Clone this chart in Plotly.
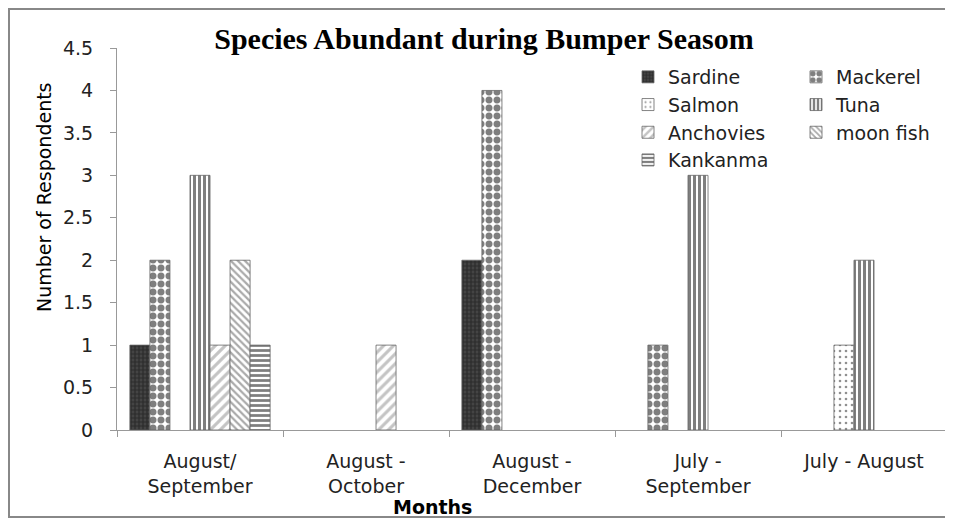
import plotly.graph_objects as go

categories = ["August/<br>September", "August -<br>October", "August -<br>December",
              "July -<br>September", "July - August"]
series_names = ["Sardine", "Mackerel", "Salmon", "Tuna", "Anchovies", "moon fish", "Kankanma"]
sardine = [1, 0, 2, 0, 0]
mackerel = [2, 0, 4, 1, 0]
salmon = [0, 0, 0, 0, 1]
tuna = [3, 0, 0, 3, 2]
anchovies = [1, 1, 0, 0, 0]
moon_fish = [2, 0, 0, 0, 0]
kankanma = [1, 0, 0, 0, 0]
y_ticks = [0, 0.5, 1, 1.5, 2, 2.5, 3, 3.5, 4, 4.5]

values = [sardine, mackerel, salmon, tuna, anchovies, moon_fish, kankanma]
patterns = [
    dict(shape="+", fgcolor="#111111", bgcolor="#444444", size=4, solidity=0.5),
    dict(shape=".", fgcolor="#000000", bgcolor="#ffffff", size=8, solidity=0.6),
    dict(shape=".", fgcolor="#222222", bgcolor="#ffffff", size=6, solidity=0.15),
    dict(shape="|", fgcolor="#000000", bgcolor="#ffffff", size=5, solidity=0.6),
    dict(shape="/", fgcolor="#8a8a8a", bgcolor="#ffffff", size=7, solidity=0.45),
    dict(shape="\\", fgcolor="#555555", bgcolor="#ffffff", size=5, solidity=0.45),
    dict(shape="-", fgcolor="#000000", bgcolor="#ffffff", size=5, solidity=0.55),
]
legend_ids = ["legend", "legend2", "legend", "legend2", "legend", "legend2", "legend"]

# The page body adds an 8px offset; work in reference-pixel coordinates.
OFF = 8
W, H = 953 - OFF, 520 - OFF
L, R, T, B = 117 - OFF, 6, 48 - OFF, 90
pw, ph = W - L - R, H - T - B


def px_x(p):
    return (p - OFF - L) / pw


def px_y(p):
    return (H - B - (p - OFF)) / ph


fig = go.Figure()
for name, vals, pat, lg in zip(series_names, values, patterns, legend_ids):
    fig.add_trace(go.Bar(
        name=name, x=categories, y=[v if v else None for v in vals],
        marker=dict(color=pat["bgcolor"], pattern=pat,
                    line=dict(color="#666666", width=0.8)),
        legend=lg,
    ))

font = "DejaVu Sans"
fig.update_layout(
    width=W, height=H,
    margin=dict(l=L, r=R, t=T, b=B),
    paper_bgcolor="white", plot_bgcolor="white",
    barmode="group", bargap=0.155, bargroupgap=0,
    font=dict(family=font, size=19, color="#222222"),
    title=dict(text="<b>Species Abundant during Bumper Seasom</b>",
               font=dict(family="Liberation Serif", size=30, color="#000000"),
               x=(484 - OFF) / W, xanchor="center", xref="container",
               y=1 - (38 - OFF) / H, yanchor="middle", yref="container"),
    xaxis=dict(showline=True, linecolor="#999999", linewidth=1,
               ticks="outside", ticklen=6, tickcolor="#999999", tickson="boundaries",
               showgrid=False, ticklabelstandoff=14,
               tickfont=dict(family=font, size=19, color="#222222")),
    yaxis=dict(range=[0, 4.5], tickvals=y_ticks, showline=True, linecolor="#999999",
               linewidth=1, ticks="outside", ticklen=6, tickcolor="#999999",
               showgrid=False, zeroline=False, ticklabelstandoff=13,
               tickfont=dict(family=font, size=19, color="#222222")),
    legend=dict(x=px_x(628), y=px_y(58), xanchor="left", yanchor="top",
                bgcolor="rgba(0,0,0,0)", font=dict(family=font, size=19, color="#222222"),
                itemwidth=30),
    legend2=dict(x=px_x(796), y=px_y(58), xanchor="left", yanchor="top",
                 bgcolor="rgba(0,0,0,0)", font=dict(family=font, size=19, color="#222222"),
                 itemwidth=30),
    showlegend=True,
)

fig.add_annotation(text="<b>Months</b>", x=px_x(432), y=px_y(507), xref="paper", yref="paper",
                   showarrow=False, xanchor="center", yanchor="middle",
                   font=dict(family=font, size=19, color="#000000"))
fig.add_annotation(text="Number of Respondents", x=px_x(44), y=px_y(197), xref="paper",
                   yref="paper", showarrow=False, textangle=-90, xanchor="center",
                   yanchor="middle", font=dict(family=font, size=19, color="#000000"))
fig.add_shape(type="rect", xref="paper", yref="paper",
              x0=px_x(OFF + 1), x1=px_x(950), y0=px_y(517), y1=px_y(OFF + 1),
              line=dict(color="#888888", width=2), fillcolor="rgba(0,0,0,0)", layer="below")

fig.write_html("out.html")
